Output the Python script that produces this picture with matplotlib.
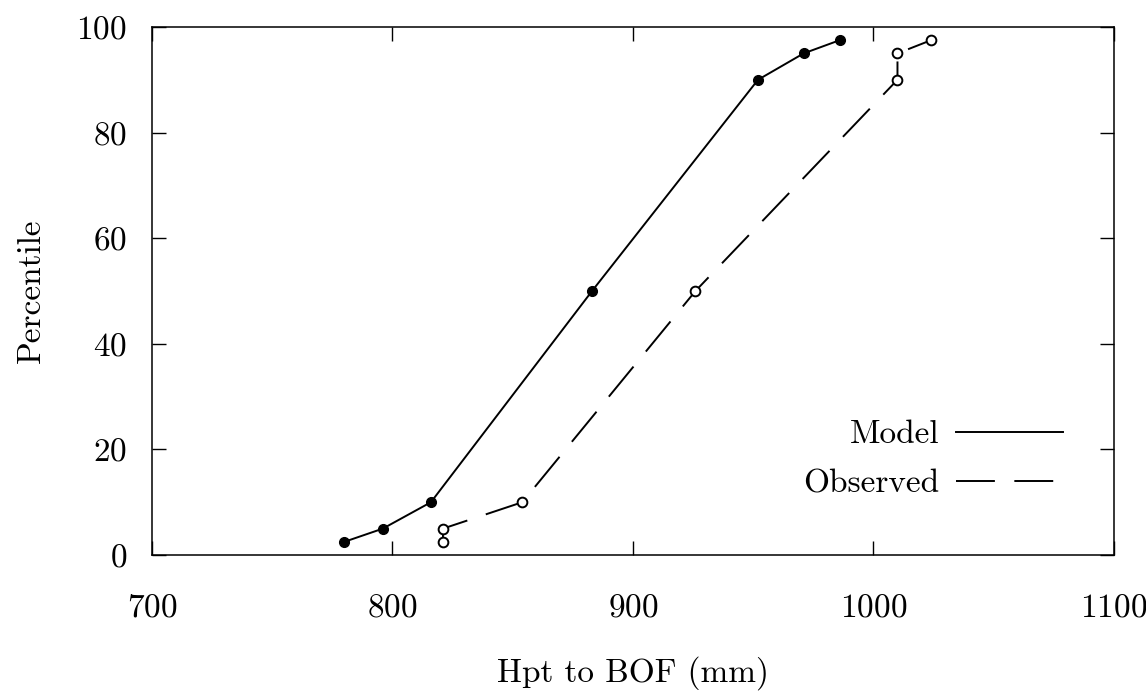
import matplotlib
matplotlib.use("Agg")
import matplotlib.pyplot as plt

# percentile curves
percentiles = [2.5, 5, 10, 50, 90, 95, 97.5]
model_mm = [780, 796, 816, 883, 952, 971, 986]
observed_mm = [821, 821, 854, 926, 1010, 1010, 1024]

x_ticks = [700, 800, 900, 1000, 1100]
y_ticks = [0, 20, 40, 60, 80, 100]

plt.rcParams['font.family'] = ['cmr10', 'DejaVu Serif']
plt.rcParams['axes.formatter.use_mathtext'] = True

fig = plt.figure(figsize=(11.46, 6.97), dpi=100)
ax = fig.add_axes([0.1326, 0.2037, 0.8394, 0.7576])

ax.plot(model_mm, percentiles, color='black', lw=1.4, marker='o', ms=7,
        mfc='black', mec='black', label='Model')
ax.plot(observed_mm, percentiles, color='black', lw=1.4, ls=(0, (20, 10)),
        marker='o', ms=7, mfc='white', mec='black', mew=1.4, label='Observed')

ax.set_xlim(700, 1100)
ax.set_ylim(0, 100)
ax.set_xticks(x_ticks)
ax.set_yticks(y_ticks)
ax.tick_params(direction='in', length=10, width=1, top=True, right=True,
               labelsize=24)
ax.tick_params(axis='x', pad=28)
ax.tick_params(axis='y', pad=18)
for s in ax.spines.values():
    s.set_linewidth(1.1)

ax.set_xlabel('Hpt to BOF (mm)', fontsize=24, labelpad=24)
ax.set_ylabel('Percentile', fontsize=24, labelpad=22)

leg = ax.legend(loc='lower right', bbox_to_anchor=(0.978, 0.05), frameon=False,
                markerfirst=False, fontsize=24, handlelength=3.2,
                labelspacing=0.6, handletextpad=0.5)
for h in leg.legend_handles:
    h.set_marker('')

fig.savefig('out.png', dpi=100)
